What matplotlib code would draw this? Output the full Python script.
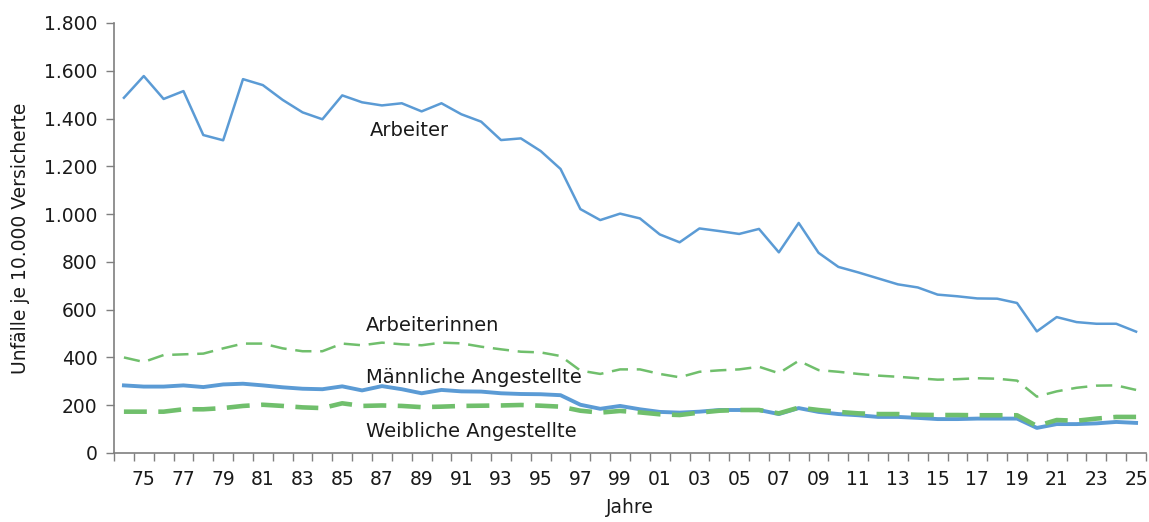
import matplotlib
matplotlib.use("Agg")
import matplotlib.pyplot as plt
from matplotlib.ticker import FuncFormatter, FixedLocator

years = list(range(1974, 2026))

arbeiter = [1487, 1578, 1482, 1515, 1331, 1309, 1565, 1540, 1478, 1426,
            1397, 1497, 1468, 1455, 1464, 1430, 1464, 1418, 1387, 1310,
            1317, 1264, 1189, 1021, 975, 1002, 982, 915, 882, 940,
            929, 917, 938, 840, 963, 838, 779, 756, 731, 706,
            693, 663, 656, 647, 646, 628, 509, 569, 548, 541,
            541, 508]

arbeiterinnen = [400, 381, 410, 413, 416, 438, 458, 458, 438, 426,
                 426, 458, 451, 462, 455, 451, 462, 459, 445, 434,
                 424, 421, 406, 345, 331, 350, 350, 331, 317, 340,
                 346, 350, 361, 334, 386, 347, 340, 331, 324, 319,
                 313, 307, 309, 313, 311, 303, 236, 258, 273, 282,
                 283, 264]

maennl_angest = [283, 278, 278, 283, 276, 287, 290, 283, 275, 269,
                 267, 279, 262, 280, 267, 250, 264, 258, 257, 250,
                 247, 246, 242, 202, 185, 197, 183, 172, 169, 173,
                 180, 180, 180, 163, 188, 172, 163, 158, 151, 151,
                 147, 142, 142, 144, 144, 144, 105, 121, 121, 124,
                 130, 126]

weibl_angest = [173, 173, 173, 183, 183, 188, 197, 202, 197, 191,
                188, 208, 197, 199, 197, 192, 194, 197, 198, 199,
                201, 198, 194, 177, 169, 176, 170, 162, 159, 169,
                177, 180, 180, 166, 190, 180, 172, 166, 163, 163,
                160, 159, 159, 158, 158, 158, 113, 138, 135, 144,
                151, 151]

labels = {"Arbeiter": (1986.4, 1352), "Arbeiterinnen": (1986.2, 532),
          "Männliche Angestellte": (1986.2, 314), "Weibliche Angestellte": (1986.2, 92)}

blue = "#5B9BD5"
green = "#70BF6C"

plt.rcParams['font.family'] = ['DejaVu Sans']

fig = plt.figure(figsize=(11.49, 5.22), dpi=100)
ax = fig.add_axes([114/1149, 1 - 453/522, (1146 - 114)/1149, (453 - 23)/522])

ax.plot(years, arbeiter, color=blue, lw=1.8)
ax.plot(years, arbeiterinnen, color=green, lw=1.8, dashes=(6.5, 3.5))
ax.plot(years, maennl_angest, color=blue, lw=2.8)
ax.plot(years, weibl_angest, color=green, lw=3.3, dashes=(5, 2.5))

for txt, (x, y) in labels.items():
    ax.text(x, y, txt, fontsize=14, color="#1a1a1a", ha="left", va="center")

ax.set_xlim(1973.5, 2025.5)
ax.set_ylim(0, 1800)
ax.set_yticks(range(0, 1801, 200))
ax.yaxis.set_major_formatter(FuncFormatter(lambda v, p: f"{int(v):,}".replace(",", ".")))

# category boundaries as ticks, labels every two years
ax.xaxis.set_major_locator(FixedLocator([y + 0.5 for y in range(1973, 2026)]))
ax.set_xticklabels([])
ax.set_xticks(list(range(1975, 2026, 2)), minor=True)
ax.set_xticklabels([f"{y % 100:02d}" for y in range(1975, 2026, 2)], minor=True)
ax.tick_params(axis='x', which='major', length=6, width=1, color="#7f7f7f", direction='out')
ax.tick_params(axis='x', which='minor', length=0, labelsize=13.5, pad=12, colors="#1a1a1a")
ax.tick_params(axis='y', length=6, width=1, color="#7f7f7f", labelsize=13.5, labelcolor="#1a1a1a", pad=6)

for s in ["top", "right"]:
    ax.spines[s].set_visible(False)
for s in ["left", "bottom"]:
    ax.spines[s].set_color("#7f7f7f")
    ax.spines[s].set_linewidth(1.2)

ax.set_xlabel("Jahre", fontsize=13.5, color="#1a1a1a", labelpad=7)
ax.set_ylabel("Unfälle je 10.000 Versicherte", fontsize=13.5, color="#1a1a1a", labelpad=10)

fig.savefig("out.png", dpi=100)
